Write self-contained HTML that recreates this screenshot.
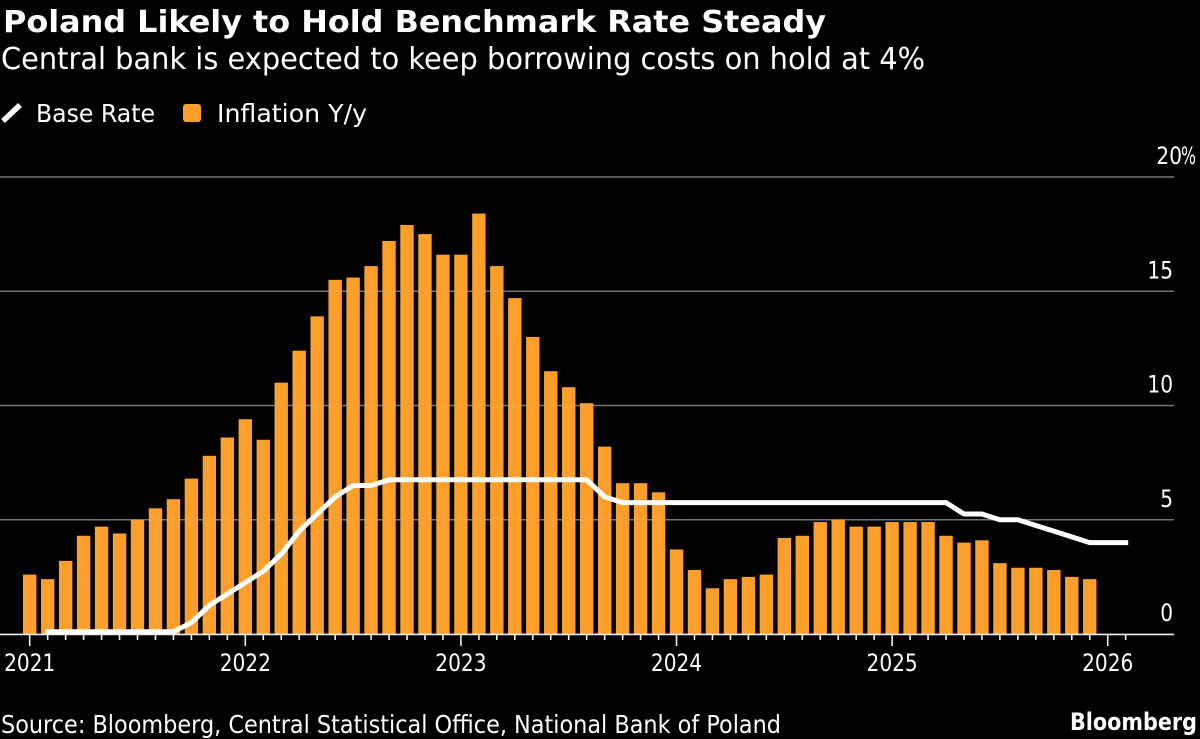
<!DOCTYPE html>
<html lang="en">
<head>
<meta charset="utf-8">
<title>Poland Likely to Hold Benchmark Rate Steady</title>
<style>
  html, body { margin: 0; padding: 0; background: #000; }
  body { width: 1200px; height: 739px; overflow: hidden; }
  svg { display: block; }
  text { fill: #fff; font-family: "DejaVu Sans", "Liberation Sans", sans-serif; }
</style>
</head>
<body>
<svg id="chart" xmlns="http://www.w3.org/2000/svg" width="1200" height="739" viewBox="0 0 1200 739">
  <rect x="0" y="0" width="1200" height="739" fill="#000"/>
  <text x="3" y="32" font-size="30" font-weight="700" textLength="823" lengthAdjust="spacingAndGlyphs">Poland Likely to Hold Benchmark Rate Steady</text>
  <text x="1" y="69" font-size="30" textLength="924" lengthAdjust="spacingAndGlyphs">Central bank is expected to keep borrowing costs on hold at 4%</text>

  <g>
    <g>
      <line x1="3" y1="121" x2="20" y2="105" stroke="#fff" stroke-width="5.5"/>
      <text x="36" y="122" font-size="25" textLength="119" lengthAdjust="spacingAndGlyphs">Base Rate</text>
    </g>
    <g>
      <rect x="183" y="104" width="18" height="18" rx="3" fill="#FF9F2B"/>
      <text x="217" y="122" font-size="25" textLength="150" lengthAdjust="spacingAndGlyphs">Inflation Y/y</text>
    </g>
  </g>

  <g id="grid-under"></g>
  <g id="bars"></g>
  <g id="grid-over"></g>
  <g id="x-axis"></g>
  <g id="y-axis"></g>
  <path id="base-line" fill="none" stroke="#fff" stroke-width="5" stroke-linejoin="round" stroke-linecap="square"></path>

  <text x="1" y="733" font-size="25" textLength="780" lengthAdjust="spacingAndGlyphs">Source: Bloomberg, Central Statistical Office, National Bank of Poland</text>
  <text x="1070" y="730" font-size="24" font-weight="700" textLength="127" lengthAdjust="spacingAndGlyphs">Bloomberg</text>
</svg>
<script>
const months = [
  "2021-01","2021-02","2021-03","2021-04","2021-05","2021-06","2021-07","2021-08","2021-09","2021-10","2021-11","2021-12",
  "2022-01","2022-02","2022-03","2022-04","2022-05","2022-06","2022-07","2022-08","2022-09","2022-10","2022-11","2022-12",
  "2023-01","2023-02","2023-03","2023-04","2023-05","2023-06","2023-07","2023-08","2023-09","2023-10","2023-11","2023-12",
  "2024-01","2024-02","2024-03","2024-04","2024-05","2024-06","2024-07","2024-08","2024-09","2024-10","2024-11","2024-12",
  "2025-01","2025-02","2025-03","2025-04","2025-05","2025-06","2025-07","2025-08","2025-09","2025-10","2025-11","2025-12",
  "2026-01","2026-02"
];
const inflation = [
  2.6,2.4,3.2,4.3,4.7,4.4,5.0,5.5,5.9,6.8,7.8,8.6,
  9.4,8.5,11.0,12.4,13.9,15.5,15.6,16.1,17.2,17.9,17.5,16.6,
  16.6,18.4,16.1,14.7,13.0,11.5,10.8,10.1,8.2,6.6,6.6,6.2,
  3.7,2.8,2.0,2.4,2.5,2.6,4.2,4.3,4.9,5.0,4.7,4.7,
  4.9,4.9,4.9,4.3,4.0,4.1,3.1,2.9,2.9,2.8,2.5,2.4
];
const baseRate = [
  null,0.1,0.1,0.1,0.1,0.1,0.1,0.1,0.1,0.5,1.25,1.75,
  2.25,2.75,3.5,4.5,5.25,6.0,6.5,6.5,6.75,6.75,6.75,6.75,
  6.75,6.75,6.75,6.75,6.75,6.75,6.75,6.75,6.0,5.75,5.75,5.75,
  5.75,5.75,5.75,5.75,5.75,5.75,5.75,5.75,5.75,5.75,5.75,5.75,
  5.75,5.75,5.75,5.75,5.25,5.25,5.0,5.0,4.75,4.5,4.25,4.0,
  4.0,4.0
];
const yTicks = [0,5,10,15,20];
const yearLabels = ["2021","2022","2023","2024","2025","2026"];

const NS = "http://www.w3.org/2000/svg";
const plotLeft = 0, plotRight = 1174;
const digitWidth = 12.8;
function xScale(i) { return 29.7 + i * 17.967; }
function yScale(v) { return 634 - v * 22.85; }
function make(tag, attrs) {
  const el = document.createElementNS(NS, tag);
  for (const k in attrs) el.setAttribute(k, attrs[k]);
  return el;
}

const gridUnder = document.getElementById("grid-under");
const gridOver = document.getElementById("grid-over");
const barsG = document.getElementById("bars");
const xAxisG = document.getElementById("x-axis");
const yAxisG = document.getElementById("y-axis");

yTicks.forEach(function (t) {
  if (t !== 0) {
    const a = make("line", {x1: plotLeft, x2: plotRight, y1: yScale(t), y2: yScale(t), stroke: "#666", "stroke-width": 1.5});
    
    
    gridUnder.appendChild(a);
    const b = make("line", {x1: plotLeft, x2: plotRight, y1: yScale(t), y2: yScale(t), stroke: "#aaa", "stroke-width": 1.5, "stroke-opacity": 0.22});
    
    
    gridOver.appendChild(b);
  }
  const label = String(t);
  const isTop = t === yTicks[yTicks.length - 1];
  const lab = make("text", {x: isTop ? 1182 : 1173, y: yScale(t) - 13, "font-size": 24, "text-anchor": "end", textLength: label.length * digitWidth, lengthAdjust: "spacingAndGlyphs"});
  lab.textContent = label;
  
  
  yAxisG.appendChild(lab);
  if (isTop) {
    const pct = make("text", {x: 1181, y: yScale(t) - 13, "font-size": 24});
    pct.textContent = "%";
    
    
    pct.setAttribute('textLength', '15');
    pct.setAttribute('lengthAdjust', 'spacingAndGlyphs');
    yAxisG.appendChild(pct);
  }
});

inflation.forEach(function (v, i) {
  const barWidth = 13.4;
  const r = make("rect", {x: xScale(i) - barWidth / 2, y: yScale(v), width: barWidth, height: yScale(0) - yScale(v), fill: "#FF9F2B"});
  
  
  barsG.appendChild(r);
});

const axisLine = make("line", {x1: plotLeft, x2: plotRight, y1: yScale(0) + 0.4, y2: yScale(0) + 0.4, stroke: "#eee", "stroke-width": 1.6});


xAxisG.appendChild(axisLine);

months.forEach(function (m, i) {
  const major = yearLabels.indexOf(m.slice(0, 4)) >= 0 && m.slice(5) === "01";
  const tick = make("line", {x1: xScale(i), x2: xScale(i), y1: yScale(0), y2: yScale(0) + (major ? 12 : 6), stroke: "#eee", "stroke-width": 1.6});
  
  
  xAxisG.appendChild(tick);
});

yearLabels.forEach(function (y) {
  const i = months.indexOf(y + "-01");
  const lab = make("text", {x: xScale(i), y: 671, "font-size": 24, "text-anchor": "middle", textLength: y.length * digitWidth, lengthAdjust: "spacingAndGlyphs"});
  lab.textContent = y;
  
  
  xAxisG.appendChild(lab);
});

let d = "";
baseRate.forEach(function (v, i) {
  if (v === null) return;
  d += (d ? "L" : "M") + xScale(i).toFixed(2) + " " + yScale(v).toFixed(2);
});
document.getElementById("base-line").setAttribute("d", d);
</script>
</body>
</html>
